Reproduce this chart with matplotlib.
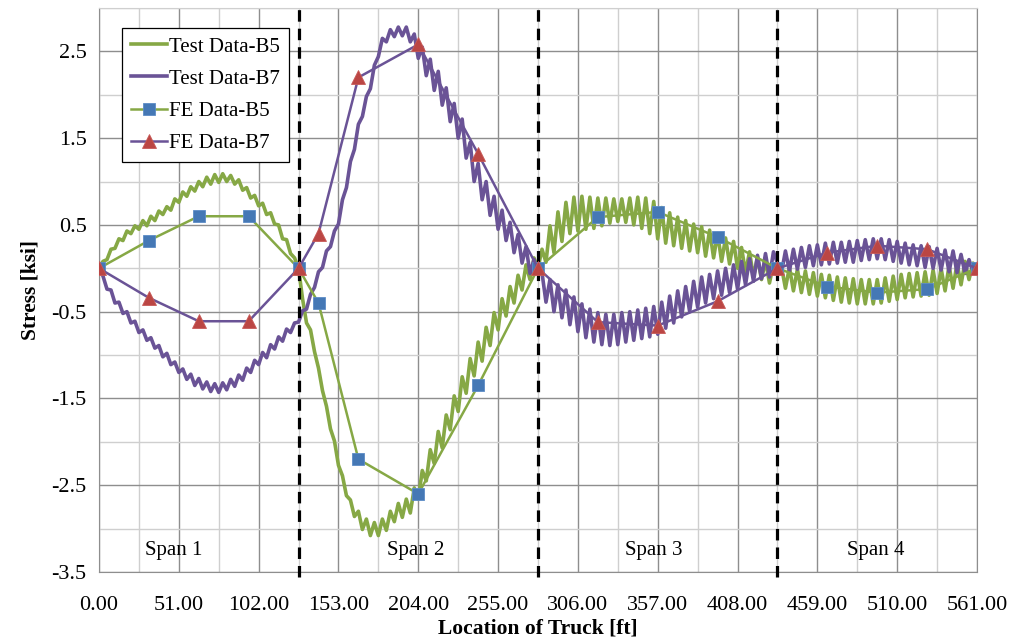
import numpy as np
import matplotlib.pyplot as plt

plt.rcParams['font.family'] = ['Liberation Serif', 'DejaVu Serif']
plt.rcParams['axes.unicode_minus'] = False

# ─────────────────────────────────────────────────────────────
# Data
# ─────────────────────────────────────────────────────────────
SPAN_EDGES = [0.0, 127.5, 280.5, 433.5, 561.0]
SPAN_NAMES = ["Span 1", "Span 2", "Span 3", "Span 4"]
SPAN_LABEL_X = [48.0, 202.5, 354.5, 496.5]
SPAN_LABEL_Y = -3.25

# FE model: truck stations [ft] and stress [ksi]
fe_x = [0.0, 31.875, 63.75, 95.625, 127.5, 140.25, 165.75, 204.0, 242.25,
        280.5, 318.75, 357.0, 395.25, 433.5, 465.375, 497.25, 529.125, 561.0]
fe_b5 = [0.0, 0.32, 0.60, 0.60, 0.0, -0.40, -2.20, -2.60, -1.35,
         0.0, 0.59, 0.65, 0.36, 0.0, -0.21, -0.28, -0.24, 0.0]
fe_b7 = [0.0, -0.34, -0.61, -0.61, 0.0, 0.40, 2.20, 2.58, 1.32,
         0.0, -0.62, -0.66, -0.38, 0.0, 0.18, 0.26, 0.22, 0.0]

# Test data, gauge B5 (readings evenly spaced along each span)
b5_span1 = [0.00, 0.08, 0.10, 0.22, 0.23, 0.34, 0.32, 0.43, 0.40, 0.49,
            0.45, 0.55, 0.49, 0.60, 0.55, 0.66, 0.62, 0.71, 0.67, 0.80,
            0.76, 0.88, 0.83, 0.94, 0.89, 1.00, 0.94, 1.05, 0.97, 1.08,
            0.99, 1.09, 1.00, 1.07, 0.97, 1.02, 0.90, 0.93, 0.81, 0.84,
            0.72, 0.75, 0.62, 0.64, 0.51, 0.50, 0.34, 0.33, 0.17, 0.12, 0.00]
b5_span2 = [0.00, -0.35, -0.63, -0.71, -0.96, -1.15, -1.41, -1.59, -1.85, -1.99,
            -2.27, -2.39, -2.62, -2.67, -2.86, -2.80, -3.01, -2.89, -3.08, -2.93,
            -3.08, -2.89, -3.02, -2.80, -2.92, -2.71, -2.87, -2.66, -2.82, -2.53,
            -2.66, -2.33, -2.45, -2.09, -2.25, -1.88, -2.07, -1.69, -1.86, -1.47,
            -1.65, -1.25, -1.44, -1.04, -1.24, -0.85, -1.07, -0.68, -0.89, -0.51,
            -0.71, -0.35, -0.55, -0.21, -0.40, -0.08, -0.25, 0.04, -0.13, 0.12, 0.00]
b5_span3 = [0.00, 0.22, 0.07, 0.49, 0.18, 0.65, 0.31, 0.76, 0.40, 0.82,
            0.43, 0.83, 0.45, 0.82, 0.46, 0.81, 0.49, 0.81, 0.52, 0.80,
            0.54, 0.80, 0.53, 0.81, 0.50, 0.82, 0.46, 0.81, 0.40, 0.77,
            0.34, 0.70, 0.29, 0.64, 0.26, 0.59, 0.23, 0.55, 0.20, 0.51,
            0.18, 0.48, 0.14, 0.44, 0.12, 0.40, 0.08, 0.35, 0.05, 0.31,
            0.00, 0.24, -0.05, 0.19, -0.10, 0.13, -0.13, 0.09, -0.17, 0.05, -0.08]
b5_span4 = [-0.08, 0.02, -0.23, 0.01, -0.26, -0.01, -0.28, -0.03, -0.30, -0.05,
            -0.32, -0.07, -0.34, -0.08, -0.37, -0.10, -0.39, -0.11, -0.40, -0.12,
            -0.41, -0.13, -0.41, -0.13, -0.41, -0.13, -0.40, -0.11, -0.38, -0.09,
            -0.36, -0.07, -0.34, -0.06, -0.33, -0.05, -0.32, -0.04, -0.31, -0.02,
            -0.29, 0.00, -0.26, 0.03, -0.23, 0.06, -0.19, 0.08, -0.13, 0.06, 0.00]

# Test data, gauge B7
b7_span1 = [0.00, -0.09, -0.24, -0.25, -0.40, -0.39, -0.52, -0.50, -0.63, -0.61,
            -0.74, -0.71, -0.83, -0.80, -0.92, -0.89, -1.02, -0.98, -1.11, -1.08,
            -1.20, -1.16, -1.28, -1.22, -1.35, -1.27, -1.39, -1.31, -1.42, -1.33,
            -1.43, -1.32, -1.40, -1.28, -1.36, -1.23, -1.29, -1.15, -1.20, -1.06,
            -1.11, -0.97, -1.03, -0.88, -0.93, -0.79, -0.84, -0.70, -0.74, -0.63, -0.62]
b7_span2 = [-0.60, -0.49, -0.47, -0.30, -0.22, -0.04, 0.01, 0.20, 0.25, 0.43,
            0.51, 0.79, 0.93, 1.23, 1.37, 1.66, 1.75, 1.98, 2.07, 2.34,
            2.44, 2.65, 2.61, 2.75, 2.67, 2.78, 2.68, 2.78, 2.61, 2.70,
            2.42, 2.55, 2.22, 2.41, 2.05, 2.27, 1.88, 2.08, 1.69, 1.90,
            1.50, 1.72, 1.27, 1.45, 1.00, 1.21, 0.79, 1.00, 0.61, 0.83,
            0.45, 0.67, 0.32, 0.53, 0.18, 0.39, 0.06, 0.25, -0.06, 0.10, -0.06]
b7_span3 = [-0.06, -0.05, -0.39, -0.13, -0.50, -0.19, -0.57, -0.25, -0.65, -0.33,
            -0.73, -0.41, -0.80, -0.47, -0.85, -0.51, -0.88, -0.53, -0.89, -0.53,
            -0.88, -0.51, -0.85, -0.50, -0.83, -0.48, -0.81, -0.46, -0.79, -0.44,
            -0.76, -0.39, -0.69, -0.32, -0.63, -0.26, -0.56, -0.21, -0.50, -0.15,
            -0.45, -0.10, -0.40, -0.07, -0.35, -0.03, -0.31, 0.00, -0.28, 0.04,
            -0.24, 0.08, -0.19, 0.11, -0.15, 0.15, -0.12, 0.17, -0.10, 0.19, 0.06]
b7_span4 = [0.06, -0.05, 0.20, -0.03, 0.22, -0.01, 0.24, 0.01, 0.26, 0.03,
            0.27, 0.04, 0.29, 0.05, 0.30, 0.06, 0.30, 0.07, 0.31, 0.07,
            0.32, 0.09, 0.33, 0.10, 0.34, 0.11, 0.34, 0.10, 0.33, 0.08,
            0.31, 0.06, 0.29, 0.04, 0.27, 0.03, 0.26, 0.01, 0.25, 0.00,
            0.23, -0.02, 0.21, -0.04, 0.20, -0.05, 0.16, -0.06, 0.10, -0.04, 0.00]


def join_spans(spans):
    """Joins the per-span readings into one curve"""
    xs, ys = [], []
    for k, vals in enumerate(spans):
        x = np.linspace(SPAN_EDGES[k], SPAN_EDGES[k + 1], len(vals))
        start = 1 if k > 0 else 0
        xs.extend(x[start:])
        ys.extend(vals[start:])
    return np.array(xs), np.array(ys)


b5_x, b5_y = join_spans([b5_span1, b5_span2, b5_span3, b5_span4])
b7_x, b7_y = join_spans([b7_span1, b7_span2, b7_span3, b7_span4])

# ─────────────────────────────────────────────────────────────
# Plot
# ─────────────────────────────────────────────────────────────
GREEN = '#86A845'
PURPLE = '#6A5396'
BLUE = '#4578B5'
RED = '#BB4644'

fig = plt.figure(figsize=(10.11, 6.43), dpi=100)
ax = fig.add_axes([99 / 1011, 1 - 572 / 643, 878 / 1011, 564 / 643])

ax.set_xlim(0, 561)
ax.set_ylim(-3.5, 3.0)

ax.set_xticks(np.arange(0, 562, 51))
ax.set_xticks(np.arange(25.5, 561, 51), minor=True)
ax.set_xticklabels([f"{v:.2f}" for v in np.arange(0, 562, 51)])
yt = np.arange(-3.5, 2.6, 1.0)
ax.set_yticks(yt)
ax.set_yticks(np.arange(-3.0, 3.01, 1.0), minor=True)
ax.set_yticklabels([f"{v:.1f}" for v in yt])

ax.grid(True, which='major', color='#8E8E8E', linewidth=1.0)
ax.grid(True, which='minor', color='#CFCFCF', linewidth=1.0)
ax.set_axisbelow(True)
ax.tick_params(which='both', length=0, labelsize=16)
ax.tick_params(axis='x', pad=17)
ax.tick_params(axis='y', pad=9)
for side in ax.spines:
    ax.spines[side].set_color('#8E8E8E')
ax.spines['top'].set_color('#CFCFCF')

# span boundaries
for xb in SPAN_EDGES[1:-1]:
    ax.plot([xb, xb], [-3.56, 3.0], color='black', linewidth=2.3,
            dashes=(3.6, 2.2), clip_on=False, zorder=5)

for name, xl in zip(SPAN_NAMES, SPAN_LABEL_X):
    ax.text(xl, SPAN_LABEL_Y, name, ha='center', va='center', fontsize=15)

l1, = ax.plot(b5_x, b5_y, color=GREEN, linewidth=2.6, label='Test Data-B5', zorder=2)
l2, = ax.plot(b7_x, b7_y, color=PURPLE, linewidth=2.6, label='Test Data-B7', zorder=3)
l3, = ax.plot(fe_x, fe_b5, color=GREEN, linewidth=1.8, marker='s', markersize=9,
              markerfacecolor=BLUE, markeredgecolor='#5C8CC6', markeredgewidth=0.6,
              label='FE Data-B5', zorder=6)
l4, = ax.plot(fe_x, fe_b7, color=PURPLE, linewidth=1.8, marker='^', markersize=9.5,
              markerfacecolor=RED, markeredgecolor='#C85A57', markeredgewidth=0.6,
              label='FE Data-B7', zorder=7)

leg = ax.legend(handles=[l1, l2, l3, l4], loc='upper left',
                bbox_to_anchor=(0.026, 0.965), borderaxespad=0,
                fontsize=15, fancybox=False, framealpha=1,
                edgecolor='black', handlelength=1.7, handletextpad=0.1,
                labelspacing=0.6, borderpad=0.45)
leg.get_frame().set_linewidth(0.9)
leg.set_zorder(10)

ax.set_xlabel('Location of Truck [ft]', fontsize=15.5, fontweight='bold', labelpad=3)
ax.set_ylabel('Stress [ksi]', fontsize=15.5, fontweight='bold', labelpad=8)

fig.savefig('out.png', dpi=100)
